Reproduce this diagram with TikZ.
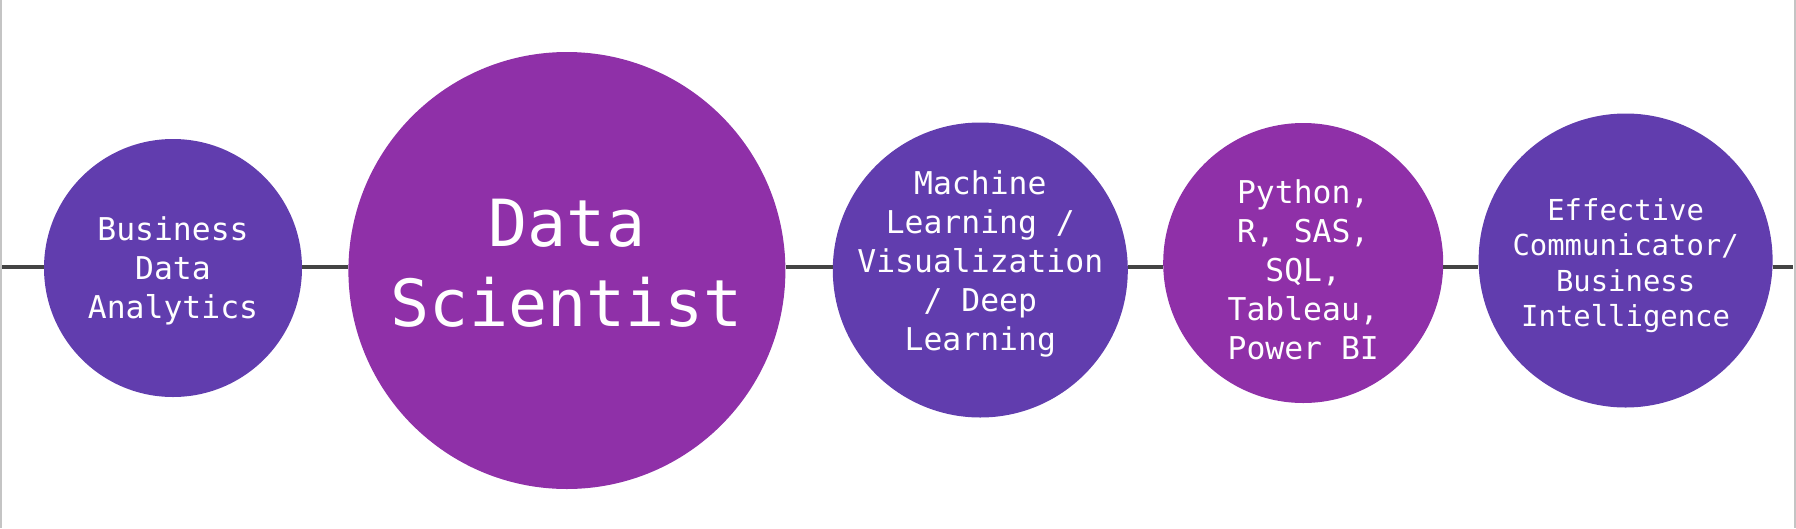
\documentclass[tikz,border=0pt]{standalone}
\usepackage{fontspec}
\setmonofont{DejaVu Sans Mono}
\usepackage{tikz}
\usetikzlibrary{positioning}
\definecolor{DeepViolet}{HTML}{613DAE}
\definecolor{Orchid}{HTML}{8F30A8}
\definecolor{RichGrey}{HTML}{444444}
\definecolor{FrameGrey}{HTML}{C4C4C4}
\tikzset{%
  bubble/.style={%
    circle,%
    draw=none,%
    inner sep=0pt,%
  },
  bubble_text/.style={%
    text=white,%
    inner sep=0pt,%
    align=center,%
    font={\ttfamily\fontsize{31.4}{38.9}\selectfont},%
  },
  big_text/.style={%
    bubble_text,%
    font={\ttfamily\fontsize{65}{80}\selectfont},%
  },
  small_text/.style={%
    bubble_text,%
    font={\ttfamily\fontsize{28.9}{35.4}\selectfont},%
  },
  time_line/.style={%
    color=RichGrey,%
    line width=4pt,%
  },
  frame_line/.style={%
    color=FrameGrey,%
    line width=2pt,%
  },
}
\begin{document}
\begin{tikzpicture}[x=1pt, y=-1pt]
    \useasboundingbox (0,0) rectangle (1796,528);

    \node [bubble, fill=DeepViolet, minimum size=258pt] (Analytics) at (173,268) {};
    \node [bubble, fill=Orchid, minimum size=437pt,
      right = 46pt of Analytics, yshift=-2.5pt] (Scientist) {};
    \node [bubble, fill=DeepViolet, minimum size=295pt,
      right = 47pt of Scientist, yshift=0.5pt] (Learning) {};
    \node [bubble, fill=Orchid, minimum size=280pt,
      right = 35pt of Learning, yshift=7pt] (Tools) {};
    \node [bubble, fill=DeepViolet, minimum size=294pt,
      right = 35pt of Tools, yshift=2.5pt] (Communicator) {};

    % texts, nudged to sit as in the original
    \node [bubble_text, yshift=-2.5pt] (Analytics_text) at (Analytics) {%
      Business\\Data\\Analytics%
    };
    \node [big_text, yshift=7pt] (Scientist_text) at (Scientist) {%
      Data\\Scientist%
    };
    \node [bubble_text, yshift=6pt] (Learning_text) at (Learning) {%
      Machine\\Learning /\\Visualization\\/ Deep\\Learning%
    };
    \node [bubble_text, yshift=-6.5pt] (Tools_text) at (Tools) {%
      Python,\\R, SAS,\\SQL,\\Tableau,\\Power BI%
    };
    \node [small_text, yshift=-5pt] (Communicator_text) at (Communicator) {%
      Effective\\Communicator/\\Business\\Intelligence%
    };

    \coordinate (line_start) at (2,267);
    \coordinate (line_end) at (1793,267);
    \coordinate (frame_left) at (1,0);
    \coordinate (frame_right) at (1794.5,0);

    \draw [frame_line] (frame_left) -- +(0,528);
    \draw [frame_line] (frame_right) -- +(0,528);

    \draw [time_line]
      (line_start) -- (Analytics.west |- line_start);
    \draw [time_line]
      (Analytics.east |- line_start) -- (Scientist.west |- line_start);
    \draw [time_line]
      (Scientist.east |- line_start) -- (Learning.west |- line_start);
    \draw [time_line]
      (Learning.east |- line_start) -- (Tools.west |- line_start);
    \draw [time_line]
      (Tools.east |- line_start) -- (Communicator.west |- line_start);
    \draw [time_line]
      (Communicator.east |- line_start) -- (line_end);
  \end{tikzpicture}
\end{document}
